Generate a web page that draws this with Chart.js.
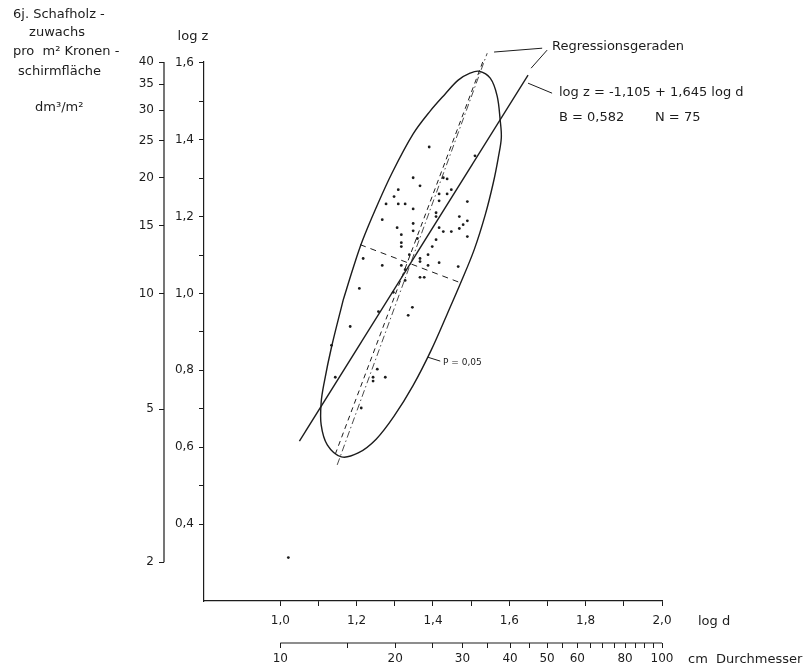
<!DOCTYPE html>
<html>
<head>
<meta charset="utf-8">
<script src="https://cdn.jsdelivr.net/npm/chart.js@4.4.0/dist/chart.umd.min.js"></script>
<style>
  html, body { margin: 0; padding: 0; background: #fff; }
</style>
</head>
<body>
<canvas id="grafico" width="805" height="672"></canvas>
<script>
// Messpunkte (log d, log z)
const logD = [1.390, 1.510, 1.348, 1.427, 1.437, 1.366, 1.309, 1.416, 1.437, 1.448,
              1.298, 1.416, 1.490, 1.277, 1.309, 1.327, 1.348, 1.408, 1.408, 1.267,
              1.469, 1.490, 1.479, 1.348, 1.306, 1.416, 1.469, 1.427, 1.448, 1.348,
              1.317, 1.490, 1.408, 1.359, 1.317, 1.317, 1.398, 1.338, 1.387, 1.366,
              1.366, 1.217, 1.416, 1.267, 1.317, 1.387, 1.466, 1.327, 1.366, 1.377,
              1.327, 1.207, 1.346, 1.335, 1.183, 1.134, 1.254, 1.243, 1.243, 1.275,
              1.144, 1.212, 1.296, 1.257, 1.021];
const logZ = [1.381, 1.358, 1.301, 1.301, 1.298, 1.280, 1.270, 1.259, 1.259, 1.270,
              1.252, 1.241, 1.239, 1.233, 1.233, 1.233, 1.220, 1.210, 1.200, 1.192,
              1.200, 1.189, 1.179, 1.182, 1.171, 1.171, 1.169, 1.161, 1.161, 1.163,
              1.153, 1.148, 1.140, 1.143, 1.132, 1.122, 1.122, 1.101, 1.101, 1.091,
              1.083, 1.091, 1.080, 1.073, 1.073, 1.073, 1.070, 1.062, 1.042, 1.042,
              1.034, 1.013, 0.964, 0.943, 0.914, 0.865, 0.803, 0.782, 0.772, 0.782,
              0.782, 0.702, 1.003, 0.953, 0.313];

// Vertrauensellipse P = 0,05 (Umlauf ab linker Flanke)
const ellipseD = [1.165, 1.191, 1.215, 1.251, 1.293, 1.348, 1.393, 1.432, 1.466, 1.497,
                  1.521, 1.550, 1.568, 1.576, 1.579, 1.571, 1.558, 1.537, 1.508, 1.474,
                  1.437, 1.395, 1.348, 1.298, 1.251, 1.204, 1.160, 1.123, 1.107, 1.107,
                  1.115, 1.134, 1.165];
const ellipseZ = [0.984, 1.067, 1.137, 1.223, 1.314, 1.415, 1.475, 1.519, 1.555, 1.573,
                  1.578, 1.560, 1.514, 1.451, 1.405, 1.353, 1.288, 1.205, 1.114, 1.031,
                  0.946, 0.852, 0.761, 0.681, 0.621, 0.585, 0.575, 0.606, 0.658, 0.717,
                  0.769, 0.860, 0.984];

// Regressionsgeraden und Nebenachse
const solidD = [1.050, 1.649];
const solidZ = [0.616, 1.568];
const dashD = [1.144, 1.531];
const dashZ = [0.582, 1.604];
const dotD = [1.149, 1.542];
const dotZ = [0.554, 1.625];
const minorD = [1.209, 1.469];
const minorZ = [1.127, 1.029];

// Hinweislinien
const leaderRegD = [1.560, 1.686, 1.699, 1.657];
const leaderRegZ = [1.628, 1.638, 1.633, 1.586];
const leaderEqD = [1.649, 1.712];
const leaderEqZ = [1.547, 1.521];
const leaderPD = [1.387, 1.419];
const leaderPZ = [0.834, 0.824];

// Achsen
const logDTicks = [1.0, 1.1, 1.2, 1.3, 1.4, 1.5, 1.6, 1.7, 1.8, 1.9, 2.0];
const logZTicks = [0.4, 0.5, 0.6, 0.7, 0.8, 0.9, 1.0, 1.1, 1.2, 1.3, 1.4, 1.5, 1.6];
const dmTicks = [2, 5, 10, 15, 20, 25, 30, 35, 40];
const cmTicks = [10, 15, 20, 25, 30, 35, 40, 45, 50, 55, 60, 65, 70, 75, 80, 85, 90, 95, 100];
const cmLabels = [10, 20, 30, 40, 50, 60, 80, 100];

const ink = '#1c1c1c';
const fam = 'DejaVu Sans';

const toPoints = (xs, ys) => xs.map((x, i) => ({ x: x, y: ys[i] }));
const comma = (v) => v.toFixed(1).replace('.', ',');

function lineSet(xs, ys, extra) {
    return Object.assign({
        data: toPoints(xs, ys),
        showLine: true,
        pointRadius: 0,
        borderColor: ink,
        borderWidth: 1,
        clip: false
    }, extra);
}

const tickGrid = { drawOnChartArea: false, color: ink, lineWidth: 1, tickLength: 5 };

const texts = [
    ['6j. Schafholz -', 13, 15, 'left'],
    ['zuwachs', 57, 33, 'center'],
    ['pro  m² Kronen -', 13, 52, 'left'],
    ['schirmfläche', 18, 72, 'left'],
    ['dm³/m²', 35, 108, 'left'],
    ['log z', 193, 37, 'center'],
    ['Regressionsgeraden', 552, 47, 'left'],
    ['log z = -1,105 + 1,645 log d', 559, 93, 'left'],
    ['B = 0,582', 559, 118, 'left'],
    ['N = 75', 655, 118, 'left'],
    ['log d', 698, 622, 'left'],
    ['cm  Durchmesser', 688, 660, 'left']
];

const extras = {
    id: 'extras',
    afterDraw(chart) {
        const ctx = chart.ctx;
        const y2 = chart.scales.y2;
        const x2 = chart.scales.x2;
        ctx.save();
        ctx.strokeStyle = ink;
        ctx.lineWidth = 1.2;
        ctx.beginPath();
        ctx.moveTo(y2.right, y2.getPixelForValue(Math.log10(dmTicks[dmTicks.length - 1])));
        ctx.lineTo(y2.right, y2.getPixelForValue(Math.log10(dmTicks[0])));
        ctx.moveTo(x2.getPixelForValue(Math.log10(cmTicks[0])), x2.top);
        ctx.lineTo(x2.getPixelForValue(Math.log10(cmTicks[cmTicks.length - 1])), x2.top);
        ctx.stroke();

        ctx.fillStyle = ink;
        ctx.textBaseline = 'middle';
        ctx.font = '13px "' + fam + '"';
        texts.forEach(([t, x, y, align]) => {
            ctx.textAlign = align;
            ctx.fillText(t, x, y);
        });
        ctx.font = '9px "' + fam + '"';
        ctx.textAlign = 'left';
        ctx.fillText('P = 0,05', 443, 363);
        ctx.restore();
    }
};

new Chart(document.getElementById('grafico'), {
    type: 'scatter',
    data: {
        datasets: [
            {
                data: toPoints(logD, logZ),
                pointRadius: 1.4,
                pointBackgroundColor: ink,
                pointBorderWidth: 0
            },
            lineSet(ellipseD, ellipseZ, { tension: 0.35, borderWidth: 1.4 }),
            lineSet(solidD, solidZ, { borderWidth: 1.4 }),
            lineSet(dashD, dashZ, { borderDash: [5, 4] }),
            lineSet(dotD, dotZ, { borderWidth: 0.8, borderDash: [7, 3, 1.5, 3] }),
            lineSet(minorD, minorZ, { borderDash: [6, 5] }),
            lineSet(leaderRegD.slice(0, 2), leaderRegZ.slice(0, 2)),
            lineSet(leaderRegD.slice(2), leaderRegZ.slice(2)),
            lineSet(leaderEqD, leaderEqZ),
            lineSet(leaderPD, leaderPZ)
        ]
    },
    options: {
        responsive: false,
        animation: false,
        layout: { padding: { left: 94, right: 143, top: 62, bottom: 4 } },
        plugins: {
            legend: { display: false },
            tooltip: { enabled: false }
        },
        scales: {
            x: {
                type: 'linear', position: 'bottom', weight: 0,
                min: 0.8, max: 2.0,
                afterBuildTicks: (s) => { s.ticks = logDTicks.map(v => ({ value: v })); },
                afterFit: (s) => { s.height = 42; },
                grid: tickGrid,
                border: { color: ink, width: 1.2 },
                ticks: {
                    autoSkip: false, maxRotation: 0, minRotation: 0, padding: 8, color: ink,
                    font: { family: fam, size: 12 },
                    callback: (v) => Math.round(v * 10) % 2 === 0 ? comma(v) : ''
                }
            },
            x2: {
                type: 'linear', position: 'bottom', weight: 1,
                min: 0.8, max: 2.0,
                afterBuildTicks: (s) => { s.ticks = cmTicks.map(v => ({ value: Math.log10(v) })); },
                afterFit: (s) => { s.height = 25; },
                grid: tickGrid,
                border: { display: false },
                ticks: {
                    autoSkip: false, maxRotation: 0, minRotation: 0, padding: 4, color: ink,
                    font: { family: fam, size: 12 },
                    callback: (v) => {
                        const cm = Math.round(Math.pow(10, v));
                        return cmLabels.includes(cm) ? String(cm) : '';
                    }
                }
            },
            y: {
                type: 'linear', position: 'left', weight: 0,
                min: 0.2, max: 1.6021,
                afterBuildTicks: (s) => { s.ticks = logZTicks.map(v => ({ value: v })); },
                afterFit: (s) => { s.width = 40; },
                grid: tickGrid,
                border: { color: ink, width: 1.2 },
                ticks: {
                    autoSkip: false, padding: 5, color: ink,
                    font: { family: fam, size: 12 },
                    callback: (v) => Math.round(v * 10) % 2 === 0 ? comma(v) : ''
                }
            },
            y2: {
                type: 'linear', position: 'left', weight: 1,
                min: 0.2, max: 1.6021,
                afterBuildTicks: (s) => { s.ticks = dmTicks.map(v => ({ value: Math.log10(v) })); },
                afterFit: (s) => { s.width = 70; },
                grid: tickGrid,
                border: { display: false },
                ticks: {
                    autoSkip: false, padding: 5, color: ink,
                    font: { family: fam, size: 12 },
                    callback: (v) => String(Math.round(Math.pow(10, v)))
                }
            }
        }
    },
    plugins: [extras]
});
</script>
</body>
</html>
